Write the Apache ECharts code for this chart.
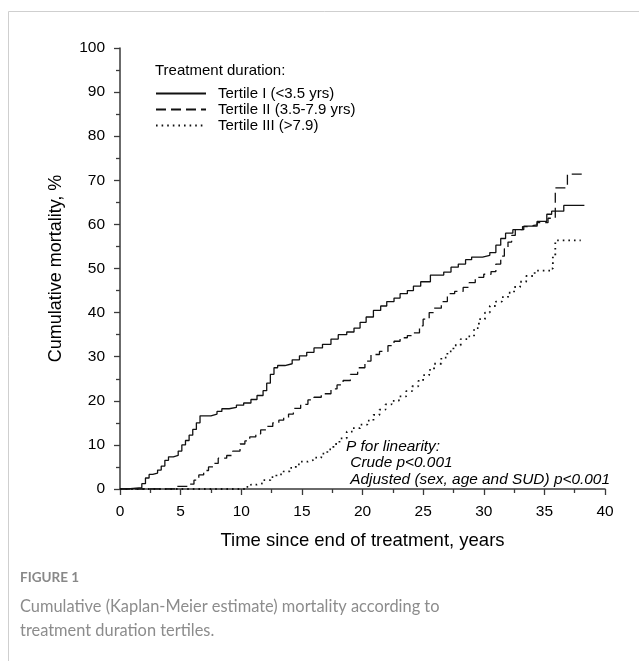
<!DOCTYPE html>
<html>
<head>
<meta charset="utf-8">
<script src="https://cdn.jsdelivr.net/npm/echarts@6/dist/echarts.min.js"></script>
<style>
html,body{margin:0;padding:0;background:#fff;}
#chart{width:639px;height:661px;}
</style>
</head>
<body>
<div id="chart"></div>
<script>
// Tertile I (<3.5 yrs) — Kaplan-Meier step points (years, cumulative %)
const t1Time = [0, 0.6, 1.8, 2.1, 2.4, 2.7, 3.1, 3.4, 3.7, 4.0, 4.4, 4.8, 5.1, 5.4, 5.7, 6.0, 6.3, 6.6, 7.5, 8.0, 8.4, 9.0, 9.6, 10.2, 10.8, 11.3, 11.8, 12.1, 12.4, 12.7, 13.0, 13.6, 14.2, 14.8, 15.4, 16.0, 16.7, 17.4, 18.0, 18.7, 19.3, 19.8, 20.3, 20.9, 21.5, 22.0, 22.6, 23.1, 23.7, 24.2, 24.8, 25.6, 26.7, 27.3, 27.9, 28.5, 29.0, 29.9, 30.5, 31.0, 31.4, 31.8, 32.4, 33.3, 34.4, 35.2, 35.6, 36.6, 38.3];
const t1Mort = [0, 0.3, 1.2, 2.5, 3.3, 3.6, 4.3, 5.2, 6.5, 7.3, 7.6, 8.6, 10.0, 11.0, 12.2, 13.5, 15.0, 16.6, 17.0, 17.6, 18.2, 18.5, 19.0, 19.5, 20.3, 21.2, 22.3, 24.0, 26.0, 27.5, 28.0, 28.4, 29.3, 30.2, 31.0, 32.0, 32.8, 34.0, 35.0, 35.6, 36.5, 37.8, 39.0, 40.5, 41.5, 42.5, 43.3, 44.3, 45.0, 46.0, 47.0, 48.5, 49.2, 50.3, 51.0, 52.0, 52.6, 53.0, 53.6, 55.3, 56.8, 58.0, 58.8, 59.6, 60.7, 62.3, 63.0, 64.3, 64.3];

// Tertile II (3.5-7.9 yrs)
const t2Time = [0, 4.6, 5.7, 6.1, 6.5, 6.9, 7.3, 7.7, 8.1, 8.8, 9.3, 9.9, 10.3, 10.7, 11.2, 11.6, 12.1, 12.6, 13.1, 13.5, 13.9, 14.3, 14.9, 15.5, 16.0, 16.6, 17.4, 17.9, 18.4, 19.0, 19.6, 20.2, 20.7, 21.4, 22.1, 22.6, 23.1, 23.7, 24.2, 24.7, 25.0, 25.5, 25.9, 26.5, 27.0, 27.6, 28.3, 28.8, 29.3, 30.0, 30.6, 31.0, 31.4, 31.7, 32.0, 32.3, 32.6, 33.2, 33.6, 34.4, 35.3, 35.9, 36.9, 38.1];
const t2Mort = [0, 0.6, 1.1, 2.0, 3.2, 4.2, 5.0, 5.8, 7.0, 7.6, 8.6, 10.2, 10.9, 11.8, 12.5, 13.4, 14.2, 15.0, 15.6, 16.2, 17.0, 18.3, 19.2, 20.2, 20.8, 21.6, 22.7, 23.6, 24.6, 26.0, 27.5, 29.0, 30.5, 31.2, 32.5, 33.5, 34.3, 34.8, 35.4, 37.0, 38.5, 40.0, 41.0, 42.5, 44.3, 44.8, 45.7, 46.8, 48.0, 48.7, 49.3, 51.0, 52.8, 54.5, 56.0, 57.5, 58.8, 59.5, 59.9, 60.4, 61.4, 68.3, 71.4, 71.4];

// Tertile III (>7.9)
const t3Time = [0, 10.3, 10.8, 11.3, 11.8, 12.4, 12.9, 13.5, 14.0, 14.5, 14.9, 15.5, 16.0, 16.6, 17.1, 17.6, 18.1, 18.7, 19.2, 19.8, 20.4, 20.9, 21.4, 21.9, 22.4, 23.0, 23.6, 24.1, 24.6, 25.0, 25.5, 25.9, 26.5, 27.0, 27.5, 28.1, 28.7, 29.2, 29.6, 30.1, 30.5, 31.0, 31.5, 32.0, 32.5, 33.0, 33.5, 34.2, 35.5, 35.7, 35.9, 38.0];
const t3Mort = [0, 0.5, 1.0, 1.3, 2.0, 2.7, 3.3, 4.0, 4.8, 5.6, 6.2, 6.6, 7.1, 8.0, 9.0, 10.2, 11.5, 13.0, 13.8, 14.6, 15.5, 16.8, 18.0, 19.2, 20.0, 21.0, 22.2, 23.3, 24.5, 25.8, 27.0, 28.4, 29.8, 31.2, 32.6, 34.0, 34.6, 36.5, 38.5, 40.0, 41.5, 42.5, 43.5, 44.5, 45.8, 47.0, 48.3, 49.5, 50.0, 53.0, 56.4, 56.4];

const seriesNames = ['Tertile I (<3.5 yrs)', 'Tertile II (3.5-7.9 yrs)', 'Tertile III (>7.9)'];
const xTicks = [0, 5, 10, 15, 20, 25, 30, 35, 40];
const yTicks = [0, 10, 20, 30, 40, 50, 60, 70, 80, 90, 100];
const legendTitle = 'Treatment duration:';
const annotationLines = ['P for linearity:', ' Crude p<0.001', ' Adjusted (sex, age and SUD) p<0.001'];
const xAxisTitle = 'Time since end of treatment, years';
const yAxisTitle = 'Cumulative mortality, %';
const figureLabel = 'FIGURE 1';
const captionLines = ['Cumulative (Kaplan-Meier estimate) mortality according to', 'treatment duration tertiles.'];

function zip(a, b) { return a.map((v, i) => [v, b[i]]); }

const FONT = '"Liberation Sans", Arial, sans-serif';
const AX = '#3a3a3a';
const INK = '#111';
const NOFILL = 'rgba(0,0,0,0)';
const lineStyles = [
  { color: INK, width: 1.3, type: 'solid' },
  { color: INK, width: 1.3, type: [10, 5] },
  { color: INK, width: 1.8, type: [1.6, 4], cap: 'butt' }
];

const chart = echarts.init(document.getElementById('chart'), null, { renderer: 'canvas' });
const option = {
  animation: false,
  backgroundColor: '#fff',
  grid: { left: 120, right: 34, top: 48, bottom: 172, containLabel: false },
  xAxis: {
    type: 'value', min: 0, max: 40, interval: 5,
    name: xAxisTitle, nameLocation: 'middle', nameGap: 42,
    nameTextStyle: { fontFamily: FONT, fontSize: 18.5, color: '#000' },
    axisLine: { show: true, onZero: false, lineStyle: { color: AX, width: 1.5 } },
    axisTick: { show: true, length: 6, lineStyle: { color: AX, width: 1.3 } },
    minorTick: { show: true, splitNumber: 2, length: 4, lineStyle: { color: AX, width: 1.3 } },
    axisLabel: { margin: 15, fontFamily: FONT, fontSize: 15.5, color: '#000',
      formatter: v => xTicks.includes(v) ? String(v) : '' },
    splitLine: { show: false }
  },
  yAxis: {
    type: 'value', min: 0, max: 100, interval: 10,
    name: yAxisTitle, nameLocation: 'middle', nameGap: 55,
    nameTextStyle: { fontFamily: FONT, fontSize: 18, color: '#000' },
    axisLine: { show: true, lineStyle: { color: AX, width: 1.5 } },
    axisTick: { show: true, length: 6, lineStyle: { color: AX, width: 1.3 } },
    minorTick: { show: true, splitNumber: 2, length: 4, lineStyle: { color: AX, width: 1.3 } },
    axisLabel: { margin: 15, fontFamily: FONT, fontSize: 15.5, color: '#000',
      formatter: v => yTicks.includes(v) ? String(v) : '' },
    splitLine: { show: false }
  },
  legend: {
    show: true,
    orient: 'vertical', left: 155, top: 86, padding: 0,
    itemWidth: 50, itemHeight: 12, itemGap: 1,
    textStyle: { fontFamily: FONT, fontSize: 15, color: '#000', padding: [0, 0, 0, 7] },
    data: seriesNames
  },
  graphic: [
    { type: 'rect', silent: true, shape: { x: 8.5, y: 11.5, width: 800, height: 800 },
      style: { fill: 'none', stroke: '#cfcfcf', lineWidth: 1 } },
    { type: 'text', left: 155, top: 63, style: { text: legendTitle, font: '15px ' + FONT, fill: '#000' } },
    { type: 'text', left: 346, top: 438, style: { text: annotationLines.join('\n'), font: 'italic 15.4px ' + FONT, fill: '#000', lineHeight: 16.5 } },
    { type: 'text', left: 20, top: 571, style: { text: figureLabel, font: 'bold 13.5px Lato, "Open Sans", sans-serif', fill: '#888' } },
    { type: 'text', left: 20, top: 595, style: { text: captionLines.join('\n'), font: '16.4px Lato, "Open Sans", sans-serif', fill: '#8c8c8c', lineHeight: 24 } }
  ],
  series: [
    { name: seriesNames[0], type: 'line', step: 'end', symbol: 'circle', showSymbol: false, symbolSize: 0, data: zip(t1Time, t1Mort), lineStyle: lineStyles[0], itemStyle: { color: NOFILL, borderColor: NOFILL, borderWidth: 0 } },
    { name: seriesNames[1], type: 'line', step: 'end', symbol: 'circle', showSymbol: false, symbolSize: 0, data: zip(t2Time, t2Mort), lineStyle: lineStyles[1], itemStyle: { color: NOFILL, borderColor: NOFILL, borderWidth: 0 } },
    { name: seriesNames[2], type: 'line', step: 'end', symbol: 'circle', showSymbol: false, symbolSize: 0, data: zip(t3Time, t3Mort), lineStyle: lineStyles[2], itemStyle: { color: NOFILL, borderColor: NOFILL, borderWidth: 0 } }
  ]
};
chart.setOption(option);
</script>
</body>
</html>
